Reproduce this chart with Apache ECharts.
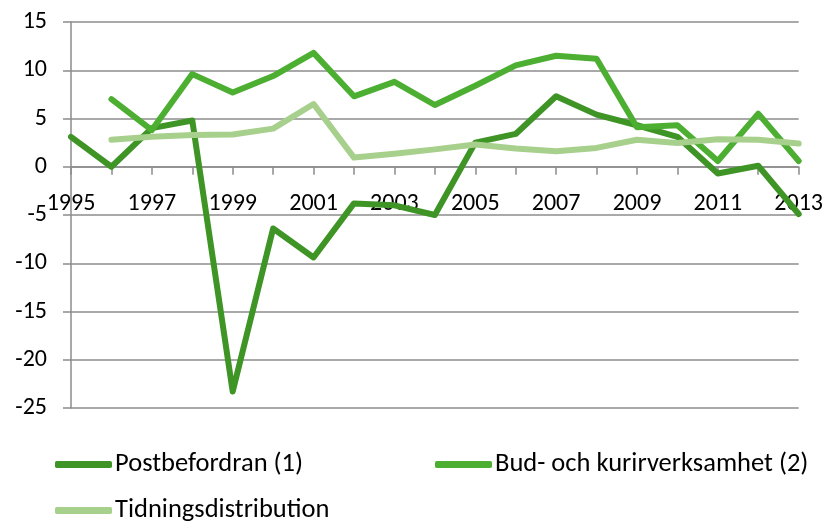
<!DOCTYPE html>
<html><head><meta charset="utf-8">
<script src="https://cdn.jsdelivr.net/npm/echarts@6/dist/echarts.min.js"></script>
<style>html,body{margin:0;padding:0;background:#fff}#c{width:826px;height:522px}</style>
</head><body><div id="c"></div>
<script>
var years = ['1995','1996','1997','1998','1999','2000','2001','2002','2003','2004','2005','2006','2007','2008','2009','2010','2011','2012','2013'];
var post = [3.1, 0.0, 4.0, 4.8, -23.3, -6.4, -9.4, -3.8, -4.0, -5.0, 2.5, 3.4, 7.3, 5.4, 4.3, 3.1, -0.7, 0.1, -4.9];
var bud = [null, 7.0, 3.8, 9.6, 7.7, 9.4, 11.8, 7.3, 8.8, 6.4, 8.4, 10.5, 11.5, 11.2, 4.1, 4.3, 0.6, 5.5, 0.6];
var tidn = [null, 2.8, 3.1, 3.3, 3.35, 3.95, 6.5, 0.95, 1.35, 1.8, 2.3, 1.9, 1.6, 1.95, 2.8, 2.45, 2.85, 2.8, 2.4];
var yTicks = [-25, -20, -15, -10, -5, 0, 5, 10, 15];
var names = ['Postbefordran (1)', 'Bud- och kurirverksamhet (2)', 'Tidningsdistribution'];
var colors = ['#3f9426', '#4caf32', '#a8d08d'];

var FONT = 'Carlito, Lato, sans-serif';
var W = 826, H = 522;
var G = { left: 71, right: 26, top: 22, bottom: 114 };
var yMin = yTicks[0], yMax = yTicks[yTicks.length - 1];
var plotH = H - G.top - G.bottom;
var zeroOffset = (0 - yMin) / (yMax - yMin) * plotH;

var chart = echarts.init(document.getElementById('c'));
function leg(i, left, top) {
  return {
    data: [names[i]], left: left, top: top, icon: 'roundRect',
    itemWidth: 57, itemHeight: 7, itemGap: 0,
    textStyle: { fontFamily: FONT, fontSize: 26.5, color: '#000', padding: [0,0,0,-2] }
  };
}
var series = [post, bud, tidn].map(function (d, i) {
  return {
    name: names[i], type: 'line', data: d, symbol: 'none', smooth: false,
    lineStyle: { width: 6, color: colors[i], cap: 'round', join: 'round' },
    itemStyle: { color: colors[i] }
  };
});
chart.setOption({
  animation: false,
  legend: [leg(0, 50, 446), leg(1, 430, 446), leg(2, 50, 492)],
  grid: { left: G.left, right: G.right, top: G.top, bottom: G.bottom, containLabel: false },
  xAxis: {
    type: 'category', data: years, boundaryGap: false, position: 'bottom', offset: -zeroOffset,
    axisLine: { onZero: false, lineStyle: { color: '#8c8c8c', width: 1.5 } },
    axisTick: { show: true, interval: 0, length: 8, lineStyle: { color: '#8c8c8c', width: 1.5 } },
    axisLabel: { interval: 1, margin: 25, fontFamily: FONT, fontSize: 24, color: '#000', showMaxLabel: true },
    splitLine: { show: false }
  },
  yAxis: {
    type: 'value', min: yMin, max: yMax, interval: 5,
    axisLine: { show: true, lineStyle: { color: '#8c8c8c', width: 1.5 } },
    axisTick: { show: true, length: 8, lineStyle: { color: '#8c8c8c', width: 1.5 } },
    axisLabel: { margin: 24, fontFamily: FONT, fontSize: 24, color: '#000' },
    splitLine: { show: true, lineStyle: { color: '#8c8c8c', width: 1.5 } }
  },
  series: series
});
</script></body></html>
